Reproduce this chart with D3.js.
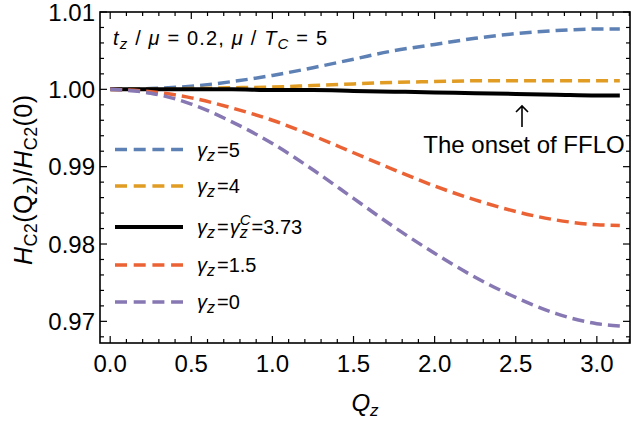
<!DOCTYPE html>
<html lang="en">
<head>
<meta charset="utf-8">
<script src="https://d3js.org/d3.v7.min.js"></script>
<style type="text/css">
body {
	margin: 0;
	background: #fff;
	font-family: "Liberation Sans", Arial, sans-serif;
}
</style>
</head>
<body>
<script type="text/javascript">

// Q_z sample points and H_C2(Q_z)/H_C2(0)
var qz   = [0, 0.25, 0.5, 0.75, 1.0, 1.25, 1.5, 1.75, 2.0, 2.25, 2.5, 2.75, 3.0, 3.1416];
var g5   = [1.0000, 1.0001, 1.0004, 1.0010, 1.0018, 1.0028, 1.0039, 1.0050, 1.0058, 1.0066, 1.0072, 1.0076, 1.0078, 1.0078];
var g4   = [1.0000, 1.0000, 1.0001, 1.0002, 1.0003, 1.0005, 1.0007, 1.0009, 1.0010, 1.0011, 1.0011, 1.0011, 1.0011, 1.0011];
var gc   = [1.0000, 1.0000, 1.0000, 1.0000, 0.9999, 0.9999, 0.9998, 0.9997, 0.9996, 0.9995, 0.9994, 0.9993, 0.9992, 0.9992];
var g15  = [1.0000, 0.9997, 0.9989, 0.9976, 0.9960, 0.9940, 0.9918, 0.9896, 0.9875, 0.9857, 0.9842, 0.9831, 0.9825, 0.9824];
var g0   = [1.0000, 0.9995, 0.9981, 0.9958, 0.9930, 0.9896, 0.9859, 0.9822, 0.9788, 0.9757, 0.9731, 0.9710, 0.9697, 0.9694];

var legendValues = ["5", "4", "3.73", "1.5", "0"];
var xTickLabels = [0, 0.5, 1.0, 1.5, 2.0, 2.5, 3.0];
var yTickLabels = [0.97, 0.98, 0.99, 1.00, 1.01];

var series = [g5, g4, gc, g15, g0];
var colors = ["#5E81B5", "#E19C24", "#000000", "#EB6235", "#8778B3"];
var dashed = [true, true, false, true, true];

var width = 634, height = 429;
var pL = 100, pR = 630, pT = 12, pB = 343;

var svg = d3.select("body").append("svg")
	.attr("width", width)
	.attr("height", height);

var x = d3.scaleLinear().domain([-0.0628, 3.2044]).range([pL, pR]);
var y = d3.scaleLinear().domain([0.9672, 1.01]).range([pB, pT]);

// ticks, inward on all four sides
var xMinor = d3.range(0, 3.21, 0.1).filter(function(d) { return x(d) < pR - 0.5; });
var yMinor = d3.range(0.968, 1.0101, 0.002);

function isMajor(v, step) { return Math.abs(v / step - Math.round(v / step)) < 1e-6; }

var ticks = svg.append("g").attr("stroke", "#000").attr("stroke-width", 1.2);
xMinor.forEach(function(d) {
	var len = isMajor(d, 0.5) ? 7 : 4;
	ticks.append("line").attr("x1", x(d)).attr("x2", x(d)).attr("y1", pB).attr("y2", pB - len);
	ticks.append("line").attr("x1", x(d)).attr("x2", x(d)).attr("y1", pT).attr("y2", pT + len);
});
yMinor.forEach(function(d) {
	var len = isMajor(d, 0.01) ? 7 : 4;
	ticks.append("line").attr("y1", y(d)).attr("y2", y(d)).attr("x1", pL).attr("x2", pL + len);
	ticks.append("line").attr("y1", y(d)).attr("y2", y(d)).attr("x1", pR).attr("x2", pR - len);
});

// frame
svg.append("rect")
	.attr("x", pL).attr("y", pT)
	.attr("width", pR - pL).attr("height", pB - pT)
	.attr("fill", "none").attr("stroke", "#000").attr("stroke-width", 1.6);

// tick labels
svg.append("g").selectAll("text")
	.data(xTickLabels).enter().append("text")
	.attr("x", function(d) { return x(d); })
	.attr("y", 372)
	.attr("text-anchor", "middle")
	.attr("font-size", 24)
	.text(function(d) { return d.toFixed(1); });

svg.append("g").selectAll("text")
	.data(yTickLabels).enter().append("text")
	.attr("x", 95)
	.attr("y", function(d) { return y(d); })
	.attr("dy", "0.36em")
	.attr("text-anchor", "end")
	.attr("font-size", 24)
	.text(function(d) { return d.toFixed(2); });

// curves
var line = d3.line()
	.x(function(d) { return x(d[0]); })
	.y(function(d) { return y(d[1]); })
	.curve(d3.curveMonotoneX);

series.forEach(function(s, i) {
	svg.append("path")
		.datum(qz.map(function(q, j) { return [q, s[j]]; }))
		.attr("d", line)
		.attr("fill", "none")
		.attr("stroke", colors[i])
		.attr("stroke-width", i == 2 ? 4 : 3.5)
		.attr("stroke-dasharray", dashed[i] ? "12,6" : null);
});

// axis labels
var xl = svg.append("text").attr("x", 365).attr("y", 411).attr("text-anchor", "middle").attr("font-size", 24);
xl.append("tspan").attr("font-style", "italic").text("Q");
xl.append("tspan").attr("font-style", "italic").attr("font-size", 17).attr("dy", 5).text("z");

var yl = svg.append("text")
	.attr("transform", "translate(32,180) rotate(-90)")
	.attr("text-anchor", "middle")
	.attr("font-size", 25)
	.attr("textLength", 170)
	.attr("lengthAdjust", "spacing");
yl.append("tspan").attr("font-style", "italic").text("H");
yl.append("tspan").attr("font-size", 18).attr("dy", 5).text("C2");
yl.append("tspan").attr("dy", -5).text("(Q");
yl.append("tspan").attr("font-style", "italic").attr("font-size", 18).attr("dy", 5).text("z");
yl.append("tspan").attr("dy", -5).text(")/");
yl.append("tspan").attr("font-style", "italic").text("H");
yl.append("tspan").attr("font-size", 18).attr("dy", 5).text("C2");
yl.append("tspan").attr("dy", -5).text("(0)");

// parameter note
var note = svg.append("text").attr("x", 113).attr("y", 45).attr("font-size", 20)
	.attr("textLength", 214)
	.attr("lengthAdjust", "spacing");
note.append("tspan").attr("font-style", "italic").text("t");
note.append("tspan").attr("font-style", "italic").attr("font-size", 15).attr("dy", 4).text("z");
note.append("tspan").attr("dy", -4).text(" / ");
note.append("tspan").attr("font-style", "italic").text("μ");
note.append("tspan").text(" = 0.2, ");
note.append("tspan").attr("font-style", "italic").text("μ");
note.append("tspan").text(" / ");
note.append("tspan").attr("font-style", "italic").text("T");
note.append("tspan").attr("font-style", "italic").attr("font-size", 15).attr("dy", 4).text("C");
note.append("tspan").attr("dy", -4).text(" = 5");

// FFLO annotation
svg.append("path")
	.attr("d", "M522,127V106M516,112L522,106L528,112")
	.attr("fill", "none").attr("stroke", "#000").attr("stroke-width", 1.6);
svg.append("text").attr("x", 524).attr("y", 153)
	.attr("text-anchor", "middle").attr("font-size", 24)
	.text("The onset of FFLO");

// legend
var rowY = [149.5, 186, 227, 265, 302];
legendValues.forEach(function(v, i) {
	svg.append("line")
		.attr("x1", 115).attr("x2", 183)
		.attr("y1", rowY[i]).attr("y2", rowY[i])
		.attr("stroke", colors[i]).attr("stroke-width", i == 2 ? 4 : 3.5)
		.attr("stroke-dasharray", dashed[i] ? "12,6.7" : null);
	var t = svg.append("text").attr("x", 197).attr("y", rowY[i] + 7).attr("font-size", 20);
	t.append("tspan").attr("font-style", "italic").text("γ");
	t.append("tspan").attr("font-style", "italic").attr("font-size", 16).attr("dy", 4).text("z");
	if (i == 2) {
		t.append("tspan").attr("dx", 2).attr("dy", -4).text("=");
		t.append("tspan").attr("dx", 1).attr("font-style", "italic").text("γ");
		t.append("tspan").attr("font-style", "italic").attr("font-size", 16).attr("dy", 4).text("z");
		t.append("tspan").attr("font-style", "italic").attr("font-size", 15).attr("dx", -8).attr("dy", -13).text("C");
		t.append("tspan").attr("dx", 1).attr("dy", 9).text("=" + v);
	} else {
		t.append("tspan").attr("dx", 2).attr("dy", -4).text("=" + v);
	}
});

</script>
</body>
</html>
